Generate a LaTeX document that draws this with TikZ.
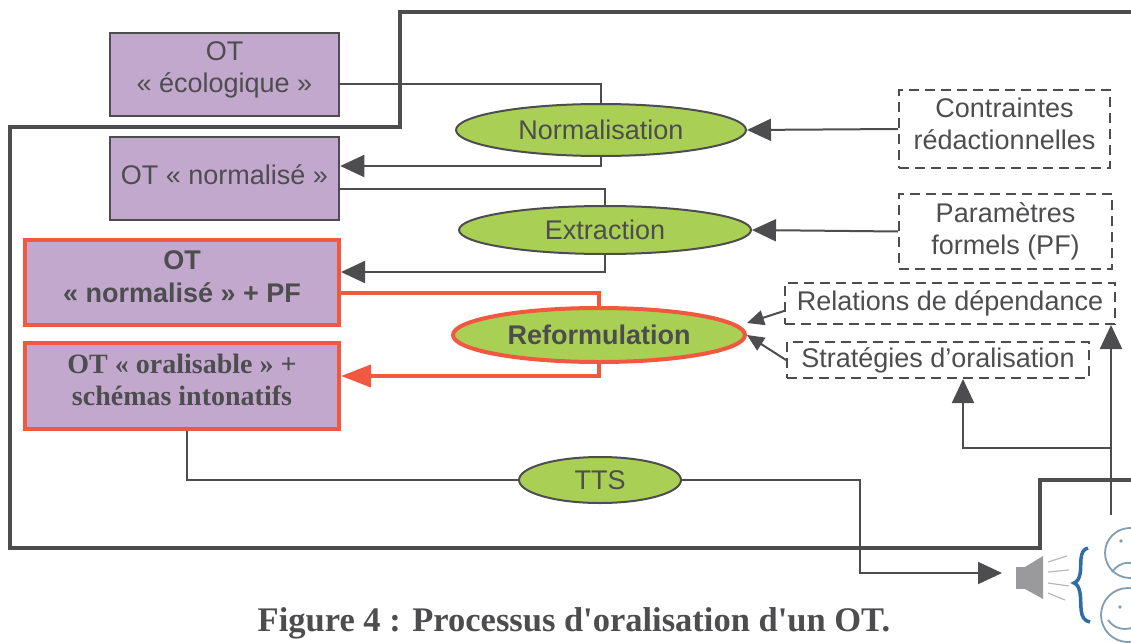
\documentclass[tikz,border=0pt]{standalone}
\usepackage{fontspec}
\setmainfont{Liberation Sans}
\newfontfamily\serifbf{Liberation Serif}
\usetikzlibrary{arrows.meta,shapes.geometric}
\definecolor{dgray}{HTML}{4D4D4F}
\definecolor{purp}{HTML}{C3A8CE}
\definecolor{grn}{HTML}{A9CF54}
\definecolor{rd}{HTML}{F05840}
\definecolor{bracecol}{HTML}{2F6EA5}
\definecolor{facecol}{HTML}{7F9DB3}
\definecolor{spkcol}{HTML}{9A9A9C}
\begin{document}
\begin{tikzpicture}[x=1pt,y=-1pt,
  font=\fontsize{27}{32}\selectfont, text=dgray,
  ptbox/.style={draw=dgray, line width=2.5pt, fill=purp, minimum width=229pt, minimum height=83pt, align=center, inner sep=0pt},
  redbox/.style={ptbox, draw=rd, line width=4pt, minimum width=314pt},
  proc/.style={ellipse, draw=dgray, line width=2pt, fill=grn, inner sep=0pt},
  dbox/.style={draw=dgray, line width=2pt, dash pattern=on 10pt off 6pt, align=center, inner sep=0pt},
  conn/.style={draw=dgray, line width=2pt},
  arr/.style={conn, -{Triangle[length=24pt,width=22pt]}},
  sarr/.style={conn, -{Triangle[length=17pt,width=15pt]}},
  redconn/.style={draw=rd, line width=4pt},
  redarr/.style={redconn, -{Triangle[length=30pt,width=22pt]}},
  frame/.style={draw=dgray, line width=4.5pt}
]
\useasboundingbox (0,0) rectangle (1131,642);
% frame
\draw[frame] (1131,12) -- (400,12) -- (400,127) -- (10,127) -- (10,548) -- (1040,548) -- (1040,480) -- (1131,480);

% boxes
\node[ptbox, text depth=14pt] (b1) at (224.5,74.5) {OT\\« écologique »};
\node[ptbox, text depth=8pt] (b2) at (224.5,178.5) {OT « normalisé »};
\node[redbox, minimum height=85pt, text depth=12pt, font=\fontsize{27}{33}\selectfont\bfseries] (b3) at (182,282.5) {OT\\« normalisé » + PF};
\node[redbox, minimum height=86pt, text depth=12pt, font=\serifbf\fontsize{28}{32}\selectfont\bfseries] (b4) at (182,386) {OT « oralisable » +\\schémas intonatifs};

% processes
\node[proc, minimum width=290pt, minimum height=52pt] (norm) at (601,130) {Normalisation};
\node[proc, minimum width=292pt, minimum height=48pt] (ext) at (605,230) {Extraction};
\node[proc, draw=rd, line width=4pt, minimum width=292pt, minimum height=54pt, font=\fontsize{27}{32}\selectfont\bfseries] (ref) at (599,335) {Reformulation};
\node[proc, minimum width=162pt, minimum height=46pt] (tts) at (600,480) {TTS};

% dashed resources
\node[dbox, minimum width=211pt, minimum height=78pt, text depth=10pt] (cont) at (1004.5,129) {Contraintes\\rédactionnelles};
\node[dbox, minimum width=213pt, minimum height=75pt] (par) at (1005.5,231.5) {Paramètres\\formels (PF)};
\node[dbox, minimum width=330pt, minimum height=41pt] (rel) at (950,303.5) {Relations de dépendance};
\node[dbox, minimum width=302pt, minimum height=36pt] (strat) at (938,360) {Stratégies d’oralisation};

% connectors
\draw[conn] ([yshift=-9.5pt]b1.east) -| (norm.north);
\draw[arr] (norm.south) |- ([yshift=12.5pt]b2.east);
\draw[conn] ([yshift=-10.5pt]b2.east) -| (ext.north);
\draw[arr] (ext.south) |- ([yshift=10.5pt]b3.east);
\draw[redconn] ([yshift=-10.5pt]b3.east) -| (ref.north);
\draw[redarr] (ref.south) |- ([yshift=10pt]b4.east);
\draw[conn] ([xshift=5pt]b4.south) |- (tts.west);
\coordinate (c1) at (860,573);
\coordinate (spkin) at (1002,573);
\draw[arr] (tts.east) -| (c1) -- (spkin);
\draw[arr] (cont.west) -- (norm.east);
\draw[arr] (par.west) -- (ext.east);
\draw[sarr] ([yshift=-7.5pt]rel.west) -- ([yshift=12pt]ref.east);
\draw[sarr] (strat.west) -- (ref.east);
\coordinate (spktop) at (1111,515);
\coordinate (br) at (1111,448);
\draw[arr] (spktop) -- (spktop |- rel.south);
\draw[arr] (br) -| ([xshift=25pt]strat.south);

% speaker and listeners
\fill[spkcol] (1016,567) rectangle (1025,589);
\fill[spkcol] (1025,567) -- (1043,556) -- (1043,599) -- (1025,589) -- cycle;
\draw[spkcol!70, line width=1.2pt] (1048,562) -- (1067,556);
\draw[spkcol!70, line width=1.2pt] (1048,572) -- (1069,570);
\draw[spkcol!70, line width=1.2pt] (1048,583) -- (1069,586);
\draw[spkcol!70, line width=1.2pt] (1048,593) -- (1065,600);
\draw[bracecol, line width=3.5pt] (1088,548) .. controls (1078,550) and (1082,566) .. (1080,574) .. controls (1079,579) and (1077,582) .. (1074,583) .. controls (1077,584) and (1079,587) .. (1080,593) .. controls (1082,604) and (1078,620) .. (1090,622);
\draw[facecol, line width=1.8pt] (1130,553) circle (25);
\draw[facecol, line width=1.8pt] (1112,572) .. controls (1120,560) and (1136,560) .. (1142,570);
\fill[facecol] (1121,541) circle (1.8);
\fill[facecol] (1135,541) circle (1.8);
\draw[facecol, line width=1.8pt] (1128,615) circle (27);
\draw[facecol, line width=1.8pt] (1108,620) .. controls (1116,632) and (1134,632) .. (1142,620);
\fill[facecol] (1120,607) circle (1.8);
\fill[facecol] (1134,607) circle (1.8);

% caption
\node[font=\serifbf\fontsize{34.5}{40}\selectfont\bfseries, text=dgray, anchor=base] (cap) at (574,631) {Figure 4 : Processus d'oralisation d'un OT.};
\end{tikzpicture}
\end{document}
